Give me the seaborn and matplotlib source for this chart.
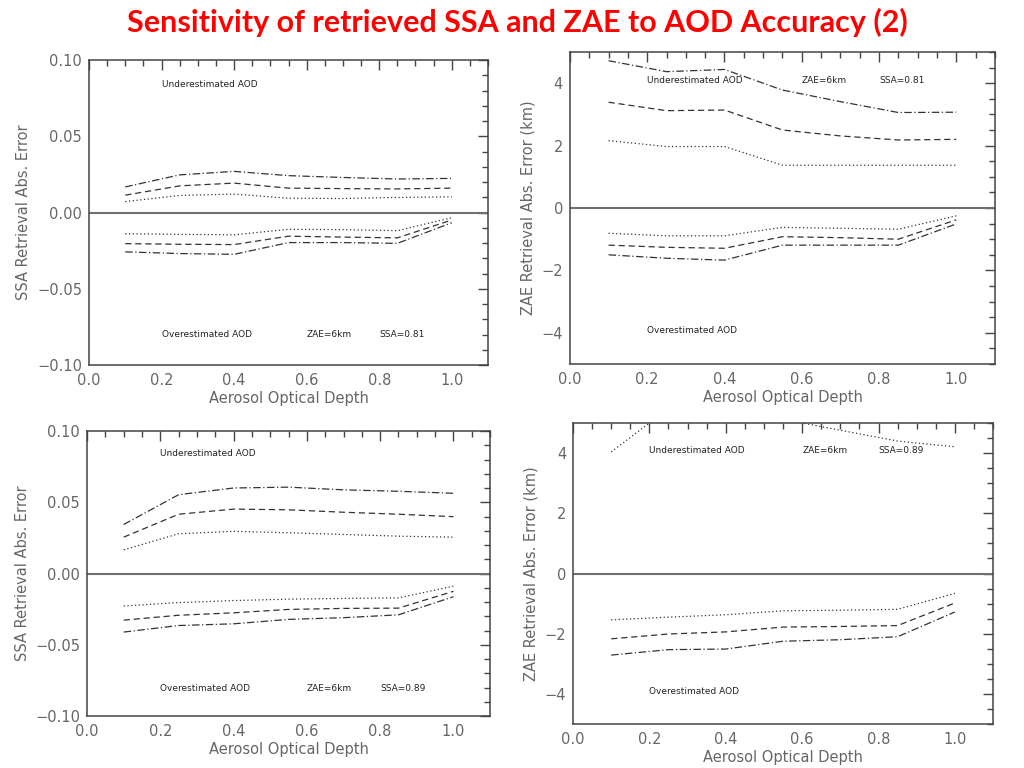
import numpy as np
import pandas as pd
import matplotlib
matplotlib.use("Agg")
import matplotlib.pyplot as plt
import seaborn as sns
from matplotlib.ticker import MultipleLocator

# AOD grid used in every panel
aod = [0.1, 0.25, 0.4, 0.55, 0.7, 0.85, 1.0]

# SSA = 0.81, SSA retrieval error (top left)
ssa81_under_dot = [0.0072, 0.0112, 0.0121, 0.0094, 0.0092, 0.0099, 0.0103]
ssa81_under_dash = [0.0114, 0.0175, 0.0193, 0.0160, 0.0157, 0.0155, 0.0160]
ssa81_under_dashdot = [0.0168, 0.0247, 0.0270, 0.0242, 0.0230, 0.0220, 0.0224]
ssa81_over_dot = [-0.0139, -0.0143, -0.0146, -0.0110, -0.0112, -0.0119, -0.0034]
ssa81_over_dash = [-0.0204, -0.0208, -0.0210, -0.0155, -0.0161, -0.0166, -0.0049]
ssa81_over_dashdot = [-0.0258, -0.0269, -0.0274, -0.0197, -0.0197, -0.0202, -0.0067]

# SSA = 0.81, ZAE retrieval error (top right)
zae81_under_dot = [2.16, 1.97, 1.97, 1.37, 1.37, 1.37, 1.37]
zae81_under_dash = [3.39, 3.12, 3.14, 2.50, 2.31, 2.18, 2.20]
zae81_under_dashdot = [4.72, 4.37, 4.44, 3.78, 3.41, 3.06, 3.07]
zae81_over_dot = [-0.81, -0.89, -0.89, -0.62, -0.65, -0.68, -0.25]
zae81_over_dash = [-1.19, -1.26, -1.29, -0.92, -0.95, -1.00, -0.38]
zae81_over_dashdot = [-1.50, -1.61, -1.67, -1.19, -1.19, -1.19, -0.51]

# SSA = 0.89, SSA retrieval error (bottom left)
ssa89_under_dot = [0.0166, 0.0279, 0.0296, 0.0286, 0.0274, 0.0262, 0.0255]
ssa89_under_dash = [0.0255, 0.0416, 0.0452, 0.0447, 0.0430, 0.0416, 0.0399]
ssa89_under_dashdot = [0.0344, 0.0553, 0.0600, 0.0606, 0.0587, 0.0577, 0.0563]
ssa89_over_dot = [-0.0228, -0.0204, -0.0190, -0.0180, -0.0175, -0.0171, -0.0089]
ssa89_over_dash = [-0.0327, -0.0293, -0.0276, -0.0252, -0.0245, -0.0243, -0.0125]
ssa89_over_dashdot = [-0.0411, -0.0365, -0.0353, -0.0322, -0.0310, -0.0290, -0.0163]

# SSA = 0.89, ZAE retrieval error (bottom right); upper dash / dash-dot are off scale
zae89_under_dot = [4.04, 5.48, 5.60, 5.12, 4.76, 4.40, 4.21]
zae89_over_dot = [-1.54, -1.45, -1.37, -1.24, -1.22, -1.19, -0.66]
zae89_over_dash = [-2.17, -2.01, -1.94, -1.78, -1.76, -1.73, -0.98]
zae89_over_dashdot = [-2.71, -2.53, -2.51, -2.25, -2.20, -2.10, -1.28]

title = "Sensitivity of retrieved SSA and ZAE to AOD Accuracy (2)"
xlabel = "Aerosol Optical Depth"
ssa_ylabel = "SSA Retrieval Abs. Error"
zae_ylabel = "ZAE Retrieval Abs. Error (km)"

dash_styles = {"dot": (1, 2), "dash": (5, 3), "dashdot": (6, 2, 1, 2)}


def make_frame(series):
    rows = []
    for (branch, case), vals in series.items():
        for x, y in zip(aod, vals):
            rows.append({"AOD": x, "err": y, "case": case, "branch": branch})
    return pd.DataFrame(rows)


def draw_panel(ax, df, ylim, ymajor, yminor, ylabel, ytext, ssa_text):
    sns.lineplot(data=df, x="AOD", y="err", style="case", units="branch",
                 estimator=None, dashes=dash_styles, color="#333333",
                 linewidth=0.9, legend=False, ax=ax)
    ax.axhline(0, color="#707070", lw=1.5)
    ax.set_xlim(0, 1.1)
    ax.set_ylim(*ylim)
    ax.xaxis.set_major_locator(MultipleLocator(0.2))
    ax.xaxis.set_minor_locator(MultipleLocator(0.05))
    ax.yaxis.set_major_locator(MultipleLocator(ymajor))
    ax.yaxis.set_minor_locator(MultipleLocator(yminor))
    ax.tick_params(which="both", direction="in", top=True, right=True,
                   colors="#444444", labelcolor="#666666", labelsize=10.5)
    ax.tick_params(which="major", length=7, width=1)
    ax.tick_params(which="minor", length=4, width=1)
    ax.tick_params(axis="x", pad=6)
    ax.tick_params(axis="y", pad=5)
    ax.set_xticks([0, 0.2, 0.4, 0.6, 0.8, 1.0])
    ax.set_xticklabels(["0.0", "0.2", "0.4", "0.6", "0.8", "1.0"])
    for sp in ax.spines.values():
        sp.set_color("#444444")
        sp.set_linewidth(1.1)
    ax.set_xlabel(xlabel, color="#666666", fontsize=10.5, labelpad=2)
    ax.set_ylabel(ylabel, color="#666666", fontsize=10.5)
    ax.text(0.2, ytext[0], "Underestimated AOD", fontsize=6.5, color="#222222", va="center")
    ax.text(0.2, ytext[1], "Overestimated AOD", fontsize=6.5, color="#222222", va="center")
    ax.text(0.6, ytext[2], "ZAE=6km", fontsize=6.5, color="#222222", va="center")
    ax.text(0.8, ytext[2], ssa_text, fontsize=6.5, color="#222222", va="center")


sns.set_theme(style="white")
plt.rcParams["font.family"] = ["DejaVu Sans"]

fig = plt.figure(figsize=(10.24, 7.68), dpi=100)
ax1 = fig.add_axes([0.0869, 0.5247, 0.3897, 0.3971])
ax2 = fig.add_axes([0.5566, 0.5260, 0.4150, 0.4063])
ax3 = fig.add_axes([0.0850, 0.0677, 0.3936, 0.3711])
ax4 = fig.add_axes([0.5596, 0.0573, 0.4102, 0.3919])

df1 = make_frame({("u", "dot"): ssa81_under_dot, ("u", "dash"): ssa81_under_dash,
                  ("u", "dashdot"): ssa81_under_dashdot, ("o", "dot"): ssa81_over_dot,
                  ("o", "dash"): ssa81_over_dash, ("o", "dashdot"): ssa81_over_dashdot})
df2 = make_frame({("u", "dot"): zae81_under_dot, ("u", "dash"): zae81_under_dash,
                  ("u", "dashdot"): zae81_under_dashdot, ("o", "dot"): zae81_over_dot,
                  ("o", "dash"): zae81_over_dash, ("o", "dashdot"): zae81_over_dashdot})
df3 = make_frame({("u", "dot"): ssa89_under_dot, ("u", "dash"): ssa89_under_dash,
                  ("u", "dashdot"): ssa89_under_dashdot, ("o", "dot"): ssa89_over_dot,
                  ("o", "dash"): ssa89_over_dash, ("o", "dashdot"): ssa89_over_dashdot})
df4 = make_frame({("u", "dot"): zae89_under_dot, ("o", "dot"): zae89_over_dot,
                  ("o", "dash"): zae89_over_dash, ("o", "dashdot"): zae89_over_dashdot})

draw_panel(ax1, df1, (-0.1, 0.1), 0.05, 0.01, ssa_ylabel, (0.084, -0.080, -0.080), "SSA=0.81")
draw_panel(ax2, df2, (-5, 5), 2, 0.5, zae_ylabel, (4.08, -3.91, 4.08), "SSA=0.81")
draw_panel(ax3, df3, (-0.1, 0.1), 0.05, 0.01, ssa_ylabel, (0.0844, -0.0805, -0.0805), "SSA=0.89")
draw_panel(ax4, df4, (-5, 5), 2, 0.5, zae_ylabel, (4.09, -3.91, 4.09), "SSA=0.89")

fig.text(0.505, 0.971, title, ha="center", va="center", color="#ff0000",
         fontsize=22, fontweight="bold", family=["Lato", "DejaVu Sans"])

fig.savefig("out.png", dpi=100)
